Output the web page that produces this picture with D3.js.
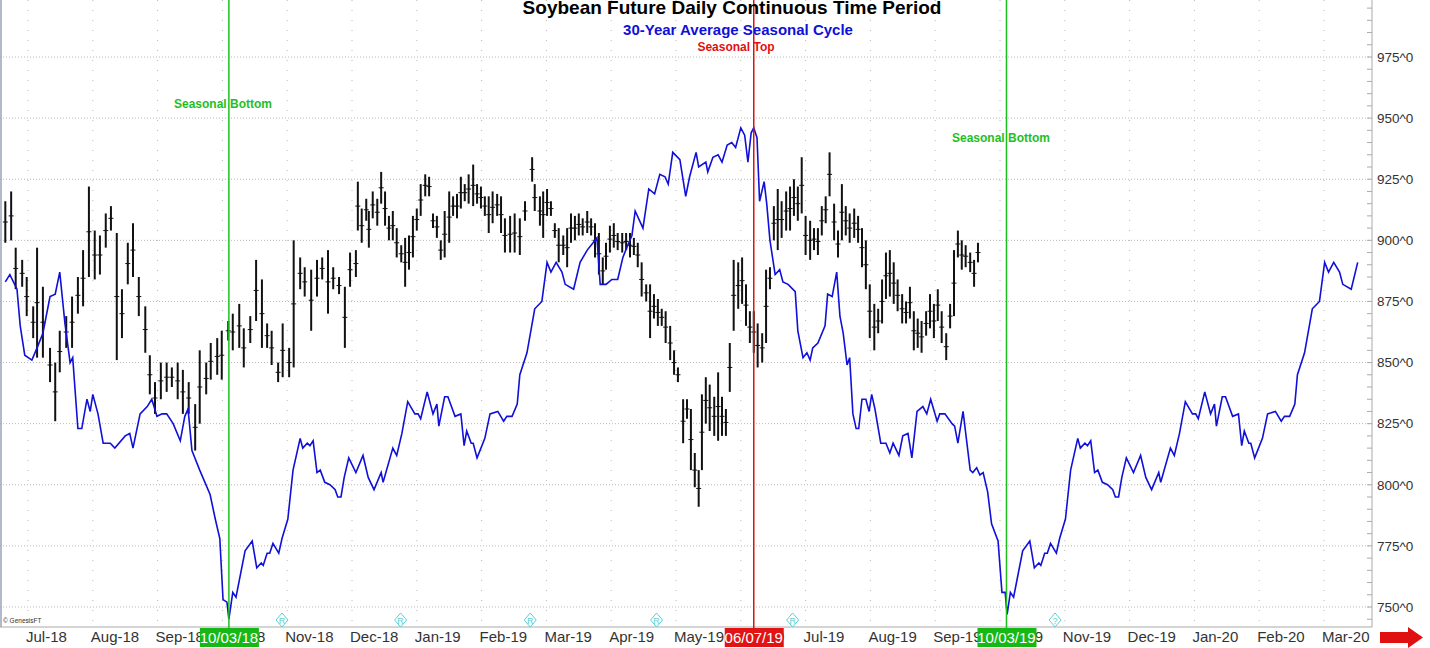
<!DOCTYPE html>
<html><head><meta charset="utf-8">
<script src="https://cdn.jsdelivr.net/npm/d3@7/dist/d3.min.js"></script>
<style>body{margin:0;background:#fff}svg{display:block;font-family:Arial,"Liberation Sans",sans-serif}</style>
</head><body><svg id="c" width="1430" height="648"></svg>
<script>
// month index: 0 = 1 Jul 2018
const monthLabels = ["Jul-18","Aug-18","Sep-18","Oct-18","Nov-18","Dec-18","Jan-19","Feb-19","Mar-19","Apr-19","May-19","Jun-19","Jul-19","Aug-19","Sep-19","Oct-19","Nov-19","Dec-19","Jan-20","Feb-20","Mar-20"];
const priceTicks = [750,775,800,825,850,875,900,925,950,975];
// 30-year seasonal cycle (one cycle, repeats each year)
const seasonalMonth = [-0.35,-0.28,-0.17,-0.12,-0.05,0.06,0.14,0.23,0.34,0.42,0.49,0.57,0.65,0.69,0.77,0.83,0.91,0.96,1.00,1.08,1.16,1.27,1.34,1.50,1.57,1.62,1.73,1.84,1.91,1.99,2.07,2.14,2.24,2.35,2.42,2.47,2.53,2.65,2.81,2.89,2.96,3.01,3.07,3.10,3.16,3.21,3.35,3.46,3.53,3.60,3.63,3.69,3.73,3.78,3.87,3.92,4.01,4.09,4.20,4.24,4.31,4.35,4.40,4.46,4.51,4.58,4.66,4.74,4.78,4.83,4.88,4.95,5.06,5.17,5.25,5.34,5.45,5.48,5.63,5.69,5.77,5.86,5.97,6.02,6.06,6.16,6.25,6.31,6.34,6.43,6.48,6.59,6.68,6.73,6.77,6.84,6.87,6.93,7.05,7.13,7.25,7.34,7.39,7.47,7.55,7.59,7.70,7.82,7.93,8.01,8.07,8.15,8.24,8.29,8.42,8.52,8.63,8.78,8.83,8.92,9.01,9.10,9.18,9.24,9.32,9.37,9.49,9.58,9.67,9.75,9.83,9.88,9.95,10.06,10.15,10.21,10.31,10.35,10.46,10.49,10.57,10.65,10.71,10.79,10.86,10.92,11.00,11.06,11.11,11.16,11.20,11.25,11.29,11.36,11.40,11.45,11.53,11.60,11.65,11.73,11.84,11.88,11.96,12.02,12.07,12.11,12.19,12.30,12.34,12.41,12.48,12.53,12.58,12.64,12.68,12.73,12.78,12.82,12.87,12.93,12.98,13.02,13.07,13.16,13.24,13.30,13.35,13.44,13.50,13.58,13.64,13.72,13.81,13.87,13.93,14.03,14.07,14.15,14.26,14.30,14.35,14.43,14.54,14.58,14.64,14.69,14.74,14.81,14.87,14.97,15.03,15.08,15.11];
const seasonalPrice = [883,886,880,865,853,851,856,862,877,878,887,866,850,852,823,823,835,830,837,829,817,817,815,820,821,815,829,832,835,828,829,829,825,818,828,831,814,806,796,786,778,753,752,745,756,754,773,777,766,768,767,772,772,776,772,778,786,806,819,815,817,816,818,805,806,801,800,798,795,795,803,811,805,812,803,798,805,801,815,812,821,834,829,829,827,838,829,833,824,836,836,828,829,816,822,817,817,811,819,829,830,826,828,828,833,845,854,872,875,891,887,891,887,882,880,891,896,901,882,882,884,884,893,897,902,912,905,921,919,927,926,923,936,933,918,926,936,930,932,928,934,935,932,939,940,938,946,943,932,944,946,942,916,924,915,900,886,888,883,882,879,863,852,854,851,856,858,865,878,877,887,869,862,849,852,829,823,823,835,835,830,837,831,817,817,813,817,812,820,821,811,830,832,829,835,826,829,829,825,824,817,830,806,805,807,804,805,797,784,777,756,756,747];
// daily continuous bars (every other session)
const barMonth = [-0.35,-0.26,-0.19,-0.09,-0.02,0.08,0.14,0.23,0.34,0.42,0.49,0.59,0.68,0.77,0.85,0.94,1.03,1.11,1.20,1.28,1.37,1.45,1.54,1.62,1.71,1.81,1.88,1.96,2.05,2.14,2.22,2.31,2.39,2.48,2.58,2.65,2.75,2.82,2.92,2.99,3.09,3.16,3.26,3.33,3.43,3.52,3.61,3.69,3.76,3.86,3.93,4.03,4.10,4.20,4.27,4.37,4.46,4.54,4.63,4.71,4.80,4.89,4.97,5.06,5.09,5.15,5.22,5.26,5.32,5.39,5.45,5.51,5.57,5.63,5.69,5.76,5.82,5.88,5.94,6.00,6.06,6.13,6.19,6.25,6.31,6.37,6.43,6.50,6.56,6.62,6.68,6.74,6.80,6.87,6.93,6.99,7.05,7.11,7.17,7.24,7.30,7.36,7.44,7.51,7.59,7.67,7.78,7.82,7.90,7.95,8.01,8.07,8.13,8.19,8.26,8.32,8.38,8.44,8.50,8.56,8.63,8.69,8.75,8.81,8.87,8.92,8.98,9.04,9.10,9.17,9.23,9.29,9.35,9.41,9.47,9.54,9.60,9.66,9.72,9.78,9.84,9.91,9.97,10.03,10.11,10.17,10.23,10.29,10.35,10.40,10.46,10.52,10.59,10.65,10.71,10.77,10.83,10.89,10.96,11.02,11.08,11.14,11.20,11.26,11.33,11.39,11.45,11.51,11.57,11.63,11.70,11.76,11.82,11.88,11.94,12.00,12.07,12.13,12.19,12.25,12.31,12.37,12.44,12.50,12.56,12.62,12.68,12.75,12.81,12.87,12.93,12.99,13.06,13.12,13.18,13.24,13.30,13.36,13.42,13.49,13.55,13.61,13.67,13.73,13.79,13.86,13.92,13.98,14.04,14.10,14.17,14.23,14.29,14.35,14.41,14.47,14.54,14.60,14.66];
const barHigh = [916,920,897,892,885,873,897,881,856,850,863,869,877,885,896,922,904,902,911,914,903,880,899,907,885,873,853,842,850,850,848,850,847,842,833,855,850,858,860,863,867,870,874,864,869,892,884,866,863,850,866,856,900,893,889,888,892,893,896,889,885,881,895,896,924,913,917,912,920,917,928,920,910,912,905,898,901,902,910,913,923,927,926,911,910,900,912,920,918,919,926,923,927,931,923,922,918,918,920,919,918,909,910,911,909,916,934,923,918,920,921,916,907,905,902,905,911,910,911,909,912,909,907,903,893,899,906,907,903,903,903,903,901,899,891,882,882,878,876,872,871,865,855,848,835,835,831,813,806,837,844,841,836,846,836,831,858,892,891,893,882,871,871,866,862,888,889,914,921,916,920,922,925,922,934,910,908,905,905,914,918,936,915,904,923,914,911,913,910,905,900,882,874,872,884,895,896,891,884,878,875,881,871,868,867,871,878,874,880,871,862,874,896,904,900,898,895,892,899];
const barLow = [899,900,880,881,869,860,852,852,842,826,846,856,856,870,873,885,884,886,897,904,851,860,882,885,869,854,837,829,835,838,840,835,829,829,814,825,837,843,845,843,859,855,856,848,858,867,856,856,849,842,844,844,848,880,877,863,877,884,870,880,878,856,881,885,904,899,908,897,909,906,915,906,900,900,893,891,881,888,893,904,910,918,918,905,901,892,893,899,910,909,913,916,915,914,915,913,910,903,907,910,903,895,895,895,894,908,924,912,906,901,910,910,901,891,894,889,899,900,902,902,903,902,893,886,882,888,895,897,896,895,896,893,894,889,877,875,860,868,865,865,858,851,845,842,817,827,806,799,791,806,825,822,820,818,820,820,838,863,872,874,865,858,854,848,850,858,880,900,896,901,904,904,910,908,911,894,892,896,894,902,907,918,900,893,900,902,899,901,899,889,880,860,855,862,866,876,877,874,871,866,866,868,855,856,854,861,864,860,867,858,851,864,869,893,888,889,887,881,891];
const events = [{m:3.10,label:"10/03/18",color:"#1fbf1f",box:"#16b816"},{m:11.20,label:"06/07/19",color:"#e01010",box:"#e01414"},{m:15.10,label:"10/03/19",color:"#1fbf1f",box:"#16b816"}];
const markerMonths = [3.92,5.75,7.75,9.70,11.80];
const markerLabels = ["R","R","R","R","R"];
const unknownMarkerMonth = 15.85;

const svg = d3.select("#c");
const x = d3.scaleLinear().domain([0,21]).range([28,28+21*64.8]);
const y = d3.scaleLinear().domain([750,975]).range([607,57]);
const plotR = 1372, plotB = 627;

svg.append("g").selectAll("line").data(priceTicks).join("line")
  .attr("x1",0).attr("x2",plotR).attr("y1",d=>y(d)).attr("y2",d=>y(d))
  .attr("stroke","#b8b8b8").attr("stroke-dasharray","1,2");
svg.append("g").selectAll("line").data(monthLabels).join("line")
  .attr("x1",(d,i)=>x(i)).attr("x2",(d,i)=>x(i)).attr("y1",0).attr("y2",plotB)
  .attr("stroke","#b8b8b8").attr("stroke-dasharray","1,9");

svg.append("line").attr("x1",1).attr("x2",1).attr("y1",0).attr("y2",plotB).attr("stroke","#9aa0b8").attr("stroke-width",1.5);
svg.append("line").attr("x1",0).attr("x2",plotR).attr("y1",plotB).attr("y2",plotB).attr("stroke","#aaa");
const yAxis = d3.axisRight(y).tickValues(priceTicks).tickSize(0).tickFormat(d=>d+"^0");
const ga = svg.append("g").attr("transform",`translate(${plotR},0)`).call(yAxis);
ga.select(".domain").attr("stroke","#aaa").attr("d",`M0,0V${plotB}`);
ga.selectAll("text").attr("x",5).attr("font-size",13.5).attr("fill","#333").attr("font-family","Arial,'Liberation Sans',sans-serif");
const minor = d3.range(745,996,5);
svg.append("g").selectAll("line").data(minor).join("line")
  .attr("x1",plotR-5).attr("x2",plotR).attr("y1",d=>y(d)).attr("y2",d=>y(d)).attr("stroke","#aaa");

// bars
svg.append("g").selectAll("line").data(barMonth).join("line")
  .attr("x1",d=>x(d)).attr("x2",d=>x(d))
  .attr("y1",(d,i)=>y(barHigh[i])).attr("y2",(d,i)=>y(barLow[i]))
  .attr("stroke","#111").attr("stroke-width",2);
svg.append("g").selectAll("line").data(barMonth).join("line")
  .attr("x1",d=>x(d)-2.5).attr("x2",d=>x(d)+2.5)
  .attr("y1",(d,i)=>y((barHigh[i]+barLow[i])/2)).attr("y2",(d,i)=>y((barHigh[i]+barLow[i])/2))
  .attr("stroke","#111").attr("stroke-width",1);

const pts = seasonalMonth.map((m,i)=>[m,seasonalPrice[i]]);
seasonalMonth.forEach((m,i)=>{ if(m>3.12 && m<=8.55) pts.push([m+12,seasonalPrice[i]]); });
svg.append("path").datum(pts).attr("fill","none").attr("stroke","#1010d8").attr("stroke-width",1.6)
  .attr("d",d3.line().x(d=>x(d[0])).y(d=>y(d[1])));

svg.append("g").selectAll("text").data(monthLabels).join("text")
  .attr("x",(d,i)=>x(i)-2).attr("y",642).attr("font-size",15).attr("fill","#333").text(d=>d);

events.forEach(e=>{
  svg.append("line").attr("x1",x(e.m)).attr("x2",x(e.m)).attr("y1",0).attr("y2",plotB+2).attr("stroke",e.color).attr("stroke-width",1.5);
  svg.append("rect").attr("x",x(e.m)-29).attr("y",628).attr("width",59).attr("height",19).attr("fill",e.box);
  svg.append("text").attr("x",x(e.m)).attr("y",643).attr("text-anchor","middle").attr("font-size",15).attr("fill","#fff").text(e.label);
});

const mk = svg.append("g");
markerMonths.forEach((m,i)=>{
  const cx=x(m), cy=620;
  mk.append("path").attr("d",`M${cx},${cy-7}L${cx+6},${cy}L${cx},${cy+7}L${cx-6},${cy}Z`).attr("fill","none").attr("stroke","#5ad0d0");
  mk.append("text").attr("x",cx).attr("y",cy+3.5).attr("text-anchor","middle").attr("font-size",9).attr("fill","#5ad0d0").text(markerLabels[i]);
});
{ const cx=x(unknownMarkerMonth), cy=620;
  mk.append("path").attr("d",`M${cx},${cy-7}L${cx+6},${cy}L${cx},${cy+7}L${cx-6},${cy}Z`).attr("fill","none").attr("stroke","#5ad0d0");
  mk.append("text").attr("x",cx).attr("y",cy+3.5).attr("text-anchor","middle").attr("font-size",9).attr("fill","#5ad0d0").text("?"); }

svg.append("text").attr("x",3).attr("y",623).attr("font-size",6.5).attr("fill","#333").text("© GenesisFT");

svg.append("text").attr("x",732).attr("y",14).attr("text-anchor","middle").attr("font-size",19).attr("font-weight","bold").attr("fill","#000").text("Soybean Future  Daily Continuous Time Period");
svg.append("text").attr("x",738).attr("y",35).attr("text-anchor","middle").attr("font-size",15).attr("font-weight","bold").attr("fill","#1010d8").text("30-Year Average Seasonal Cycle");
svg.append("text").attr("x",736).attr("y",51).attr("text-anchor","middle").attr("font-size",12).attr("font-weight","bold").attr("fill","#e01010").text("Seasonal Top");
svg.append("text").attr("x",223).attr("y",108).attr("text-anchor","middle").attr("font-size",12).attr("font-weight","bold").attr("fill","#1fbf1f").text("Seasonal Bottom");
svg.append("text").attr("x",1001).attr("y",142).attr("text-anchor","middle").attr("font-size",12).attr("font-weight","bold").attr("fill","#1fbf1f").text("Seasonal Bottom");

svg.append("path").attr("d","M1380,632H1408V627L1423,637.5L1408,648V643H1380Z").attr("fill","#e01010");
</script></body></html>
